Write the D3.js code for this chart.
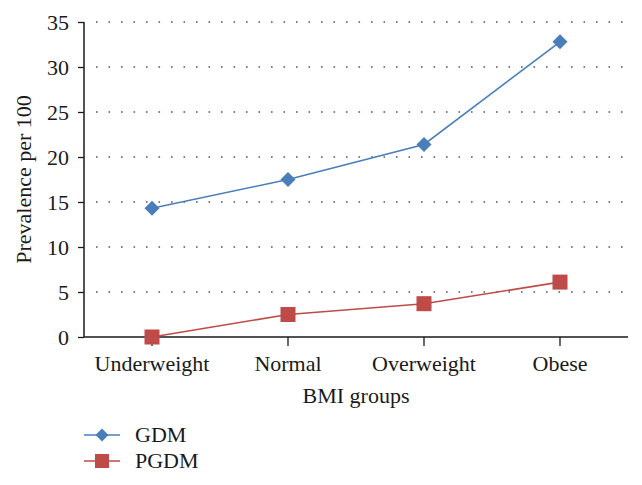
<!DOCTYPE html>
<html><head><meta charset="utf-8">
<script src="https://cdn.jsdelivr.net/npm/d3@7"></script>
<style>body{margin:0;background:#fff}svg text{font-family:"Liberation Serif","Times New Roman",serif;fill:#1a1a1a}</style>
</head><body>
<svg id="c" width="642" height="485"></svg>
<script>
const categories = ["Underweight","Normal","Overweight","Obese"];
const gdm = [14.3, 17.5, 21.4, 32.8];
const pgdm = [0.0, 2.5, 3.7, 6.1];
const yTicks = [0,5,10,15,20,25,30,35];
const seriesNames = ["GDM","PGDM"];
const colors = ["#4a7ebb","#be4b48"];

(function(){
const svg = d3.select("#c");
const pL = 84, pR = 628, pT = 22, pB = 337;
const x = d3.scaleBand().domain(categories).range([pL,pR]);
const y = d3.scaleLinear().domain([0,35]).range([pB,pT]);
const fs = 22;

// grid
svg.append("g").selectAll("line").data(yTicks.filter(d=>d>0)).join("line")
  .attr("x1",96).attr("x2",624).attr("y1",d=>y(d)).attr("y2",d=>y(d))
  .attr("stroke","#555").attr("stroke-width",1.6).attr("stroke-dasharray","1.6,10.9");

// y axis
const ya = svg.append("g").attr("transform",`translate(${pL},0)`)
  .call(d3.axisLeft(y).tickValues(yTicks).tickSize(6).tickPadding(9));
ya.select(".domain").attr("stroke","#1a1a1a").attr("stroke-width",1.5).attr("d",`M0,${pB}V${pT}`);
ya.selectAll(".tick line").attr("stroke","#1a1a1a").attr("stroke-width",1.3);
ya.selectAll("text").style("font-size",fs+"px").attr("dy","0.34em");

// x axis
const xa = svg.append("g").attr("transform",`translate(0,${pB})`)
  .call(d3.axisBottom(x).tickSize(9).tickPadding(7));
xa.select(".domain").attr("stroke","#1a1a1a").attr("stroke-width",1.5).attr("d",`M${pL},0H${pR}`);
xa.selectAll(".tick line").attr("stroke","#1a1a1a").attr("stroke-width",1.3);
xa.selectAll("text").style("font-size",fs+"px").attr("dy","0.8em");

// titles
svg.append("text").attr("x",(pL+pR)/2).attr("y",403).attr("text-anchor","middle")
  .style("font-size",fs+"px").text("BMI groups");
svg.append("text").attr("transform",`translate(31,${(pT+pB)/2}) rotate(-90)`).attr("text-anchor","middle")
  .style("font-size",fs+"px").text("Prevalence per 100");

const cx = d => x(d)+x.bandwidth()/2;
const line = d3.line().x((d,i)=>cx(categories[i])).y(d=>y(d));
[gdm,pgdm].forEach((vals,k)=>{
  svg.append("path").attr("d",line(vals)).attr("fill","none").attr("stroke",colors[k]).attr("stroke-width",1.6);
});
const diamond = s => `M0,${-s}L${s},0L0,${s}L${-s},0Z`;
svg.append("g").selectAll("path").data(gdm).join("path")
  .attr("transform",(d,i)=>`translate(${cx(categories[i])},${y(d)})`)
  .attr("d",diamond(7.5)).attr("fill",colors[0]);
svg.append("g").selectAll("rect").data(pgdm).join("rect")
  .attr("x",(d,i)=>cx(categories[i])-7.5).attr("y",d=>y(d)-7.5)
  .attr("width",15).attr("height",15).attr("fill",colors[1]);

// legend
const ly = [435,461];
seriesNames.forEach((n,k)=>{
  svg.append("line").attr("x1",84).attr("x2",120).attr("y1",ly[k]).attr("y2",ly[k])
    .attr("stroke",colors[k]).attr("stroke-width",1.6);
  if(k===0) svg.append("path").attr("transform",`translate(102,${ly[k]})`).attr("d",diamond(6.5)).attr("fill",colors[k]);
  else svg.append("rect").attr("x",95).attr("y",ly[k]-7).attr("width",14).attr("height",14).attr("fill",colors[k]);
  svg.append("text").attr("x",135).attr("y",ly[k]+7).style("font-size",fs+"px").text(n);
});
})();
</script>
</body></html>
